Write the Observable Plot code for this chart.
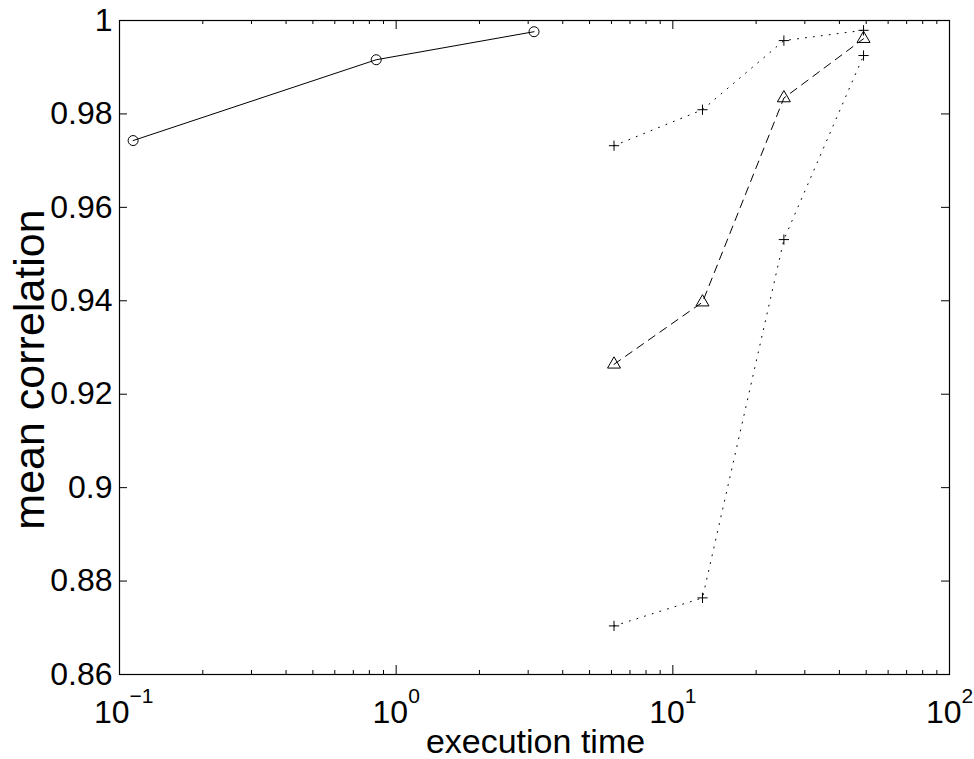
<!DOCTYPE html>
<html>
<head>
<meta charset="utf-8">
<script src="https://cdn.jsdelivr.net/npm/d3@7"></script>
<script src="https://cdn.jsdelivr.net/npm/@observablehq/plot@0.6"></script>
<style>
  html, body { margin: 0; padding: 0; background: #fff; }
  #chart svg { display: block; overflow: visible; }
</style>
</head>
<body>
<div id="chart"></div>
<script>
// ---- data ----
const timeCircle = [0.112, 0.847, 3.15];
const corrCircle = [0.9743, 0.9916, 0.9976];

const timeB = [6.13, 12.8, 25.2, 48.9];
const corrUpper = [0.9732, 0.9809, 0.9957, 0.9979];
const corrMean = [0.9264, 0.9397, 0.9834, 0.9961];
const corrLower = [0.8704, 0.8764, 0.9531, 0.9925];

// ---- axis ticks ----
const decades = [0.1, 1, 10, 100];
const decadeExponents = ["\u22121", "0", "1", "2"];
const minorTicks = [0.1, 1, 10].flatMap(d => [2, 3, 4, 5, 6, 7, 8, 9].map(k => d * k));
const yTicks = [0.86, 0.88, 0.90, 0.92, 0.94, 0.96, 0.98, 1.00];
const yTickLabels = ["0.86", "0.88", "0.9", "0.92", "0.94", "0.96", "0.98", "1"];

const xLabel = "execution time";
const yLabel = "mean correlation";

// ---- tables ----
const toRows = (xs, ys) => xs.map((x, i) => ({x, y: ys[i]}));
const circleRows = toRows(timeCircle, corrCircle);
const upperRows = toRows(timeB, corrUpper);
const meanRows = toRows(timeB, corrMean);
const lowerRows = toRows(timeB, corrLower);

const W = 974, H = 759;
const mt = 20, mb = 85, ml = 119, mr = 25;
const innerH = H - mt - mb;
const innerW = W - ml - mr;
const font = "Liberation Sans, Arial, Helvetica, sans-serif";

const decadeLabelMarks = decades.flatMap((d, i) => {
  const dx = i === 0 ? 10 : 12;
  return [
    Plot.text([d], {x: v => v, frameAnchor: "bottom", lineAnchor: "bottom", textAnchor: "end",
      text: () => "10", dy: 48, dx, fontSize: 32, fill: "black"}),
    Plot.text([d], {x: v => v, frameAnchor: "bottom", lineAnchor: "bottom", textAnchor: "start",
      text: () => decadeExponents[i], dy: 28, dx, fontSize: 21, fill: "black"})
  ];
});

const chart = Plot.plot({
  width: W,
  height: H,
  marginTop: mt,
  marginBottom: mb,
  marginLeft: ml,
  marginRight: mr,
  style: {fontFamily: font, background: "white", color: "black", overflow: "visible"},
  x: {type: "log", domain: [0.1, 100], axis: null},
  y: {domain: [0.86, 1], axis: null},
  marks: [
    // ticks (inside the box)
    Plot.tickX(decades, {x: d => d, insetTop: innerH - 9, stroke: "black"}),
    Plot.tickX(decades, {x: d => d, insetBottom: innerH - 9, stroke: "black"}),
    Plot.tickX(minorTicks, {x: d => d, insetTop: innerH - 4, stroke: "black"}),
    Plot.tickX(minorTicks, {x: d => d, insetBottom: innerH - 4, stroke: "black"}),
    Plot.tickY(yTicks, {y: d => d, insetRight: innerW - 8, stroke: "black"}),
    Plot.tickY(yTicks, {y: d => d, insetLeft: innerW - 8, stroke: "black"}),
    Plot.frame({stroke: "black", strokeWidth: 1.2}),

    // y tick labels
    Plot.text(yTicks, {y: d => d, frameAnchor: "left", textAnchor: "end", dx: -7,
      text: (d, i) => yTickLabels[i], fontSize: 32, fill: "black"}),
    // x tick labels (10 with superscript exponent)
    ...decadeLabelMarks,

    // axis titles
    Plot.text([xLabel], {frameAnchor: "bottom", lineAnchor: "bottom", textAnchor: "middle", dy: 78, dx: 1,
      text: d => d, fontSize: 34, fill: "black"}),
    Plot.text([yLabel], {frameAnchor: "left", lineAnchor: "bottom", textAnchor: "middle", rotate: -90, dx: -76, dy: 22,
      text: d => d, fontSize: 43, fill: "black"}),

    // series
    Plot.line(circleRows, {x: "x", y: "y", stroke: "black", strokeWidth: 1}),
    Plot.dot(circleRows, {x: "x", y: "y", symbol: "circle", r: 5, stroke: "black", fill: "none", strokeWidth: 1}),

    Plot.line(upperRows, {x: "x", y: "y", stroke: "black", strokeWidth: 1, strokeDasharray: "1,7"}),
    Plot.dot(upperRows, {x: "x", y: "y", symbol: "plus", r: 3.4, stroke: "black", strokeWidth: 1}),

    Plot.line(lowerRows, {x: "x", y: "y", stroke: "black", strokeWidth: 1, strokeDasharray: "1,7"}),
    Plot.dot(lowerRows, {x: "x", y: "y", symbol: "plus", r: 3.4, stroke: "black", strokeWidth: 1}),

    Plot.line(meanRows, {x: "x", y: "y", stroke: "black", strokeWidth: 1, strokeDasharray: "8,6"}),
    Plot.dot(meanRows, {x: "x", y: "y", symbol: "triangle2", r: 6.2, stroke: "black", fill: "none", strokeWidth: 1})
  ]
});

document.getElementById("chart").appendChild(chart);
</script>
</body>
</html>
